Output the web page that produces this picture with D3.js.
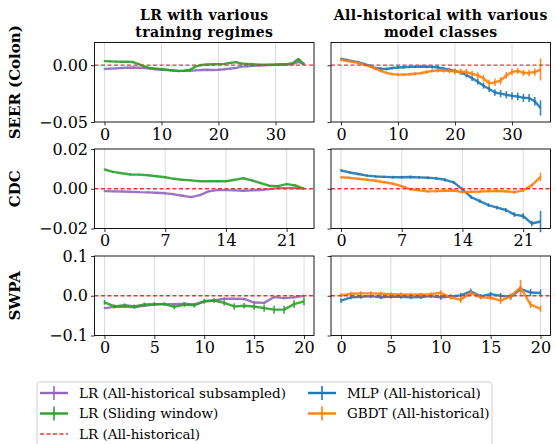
<!DOCTYPE html>
<html>
<head>
<meta charset="utf-8">
<script src="https://cdn.jsdelivr.net/npm/d3@7"></script>
<style>
  body { margin: 0; background: #fff; }
  text { font-family: "DejaVu Serif", serif; }
</style>
</head>
<body>
<div id="chart"></div>
<script>
// ---- data ----
var rowNames = ["SEER (Colon)", "CDC", "SWPA"];
var colTitles = [["LR with various", "training regimes"], ["All-historical with various", "model classes"]];
var seerXTicks = [0, 10, 20, 30], cdcXTicks = [0, 7, 14, 21], swpaXTicks = [0, 5, 10, 15, 20];
var seerYTicks = [-0.05, 0], cdcYTicks = [-0.02, 0, 0.02], swpaYTicks = [-0.1, 0, 0.1];
var seerYDomain = [-0.05, 0.02], cdcYDomain = [-0.02, 0.02], swpaYDomain = [-0.1, 0.1];

var seerSub = [-0.0033, -0.003, -0.0028, -0.0025, -0.0022, -0.002, -0.0022, -0.0026, -0.003, -0.0035, -0.004, -0.0043,
  -0.0047, -0.005, -0.005, -0.0049, -0.0045, -0.0042, -0.004, -0.0042, -0.004, -0.0036, -0.003, -0.0025, -0.0012,
  -0.001, -0.0006, -0.0002, 0.0, 0.0002, 0.0003, 0.0004, 0.0006, 0.001, 0.003, 0.0008];
var seerSliding = [0.0036, 0.0034, 0.0032, 0.0031, 0.003, 0.0028, 0.001, -0.001, -0.0025, -0.003, -0.0035, -0.004,
  -0.0045, -0.0052, -0.0048, -0.004, -0.001, 0.0002, 0.0006, 0.0008, 0.001, 0.0012, 0.002, 0.0027, 0.0015, 0.0012,
  0.001, 0.0005, 0.0004, 0.0004, 0.0006, 0.0008, 0.001, 0.0018, 0.0055, 0.001];
var seerMLP = [0.0056, 0.0046, 0.0036, 0.0027, 0.0012, -0.0003, -0.0025, -0.003, -0.0033, -0.0025, -0.002, -0.0018,
  -0.0015, -0.0013, -0.0012, -0.0013, -0.0015, -0.002, -0.003, -0.004, -0.005, -0.0065, -0.0086, -0.0115, -0.0145,
  -0.018, -0.021, -0.024, -0.025, -0.026, -0.027, -0.0275, -0.0287, -0.029, -0.0317, -0.0376];
var seerMLPErr = [0.0003, 0.0003, 0.0003, 0.0003, 0.0003, 0.0003, 0.0004, 0.0004, 0.0004, 0.0004, 0.0005, 0.0005,
  0.0005, 0.0005, 0.0005, 0.0006, 0.0006, 0.0007, 0.0008, 0.001, 0.0012, 0.0014, 0.0015, 0.0016, 0.0018, 0.002,
  0.002, 0.0022, 0.0025, 0.0025, 0.0025, 0.0027, 0.0028, 0.003, 0.003, 0.006];
var seerGBDT = [0.0047, 0.0038, 0.003, 0.002, 0.0005, -0.001, -0.003, -0.005, -0.0068, -0.0078, -0.0083, -0.0083,
  -0.008, -0.0075, -0.007, -0.006, -0.005, -0.0047, -0.0047, -0.005, -0.0056, -0.0058, -0.006, -0.0075, -0.009,
  -0.0115, -0.016, -0.0152, -0.0136, -0.009, -0.006, -0.005, -0.0068, -0.0068, -0.006, -0.0038];
var seerGBDTErr = [0.0003, 0.0003, 0.0003, 0.0003, 0.0003, 0.0003, 0.0003, 0.0004, 0.0004, 0.0004, 0.0005, 0.0005,
  0.0005, 0.0006, 0.0006, 0.0007, 0.0008, 0.001, 0.0012, 0.0015, 0.0018, 0.002, 0.002, 0.002, 0.0022, 0.0022,
  0.0025, 0.0025, 0.0025, 0.0022, 0.002, 0.002, 0.002, 0.0022, 0.0025, 0.009];

var cdcSub = [-0.0012, -0.0013, -0.0014, -0.0015, -0.0017, -0.0018, -0.002, -0.0023, -0.0028, -0.0035, -0.0042, -0.0032,
  -0.0013, -0.0007, -0.0007, -0.0008, -0.001, -0.0008, -0.0006, -0.0002, 0.0003, 0.0003, 0.0005, 0.0];
var cdcSliding = [0.0097, 0.0085, 0.0078, 0.0072, 0.0071, 0.0068, 0.0063, 0.0058, 0.005, 0.0045, 0.0042, 0.0038,
  0.0038, 0.0038, 0.0038, 0.0045, 0.0053, 0.0042, 0.0028, 0.0015, 0.0013, 0.0023, 0.0017, 0.0];
var cdcMLP = [0.0092, 0.0082, 0.0074, 0.0066, 0.0062, 0.006, 0.0058, 0.0058, 0.0059, 0.0057, 0.0055, 0.0052,
  0.0045, 0.0032, -0.0003, -0.0042, -0.0062, -0.0082, -0.0095, -0.0107, -0.013, -0.0137, -0.0175, -0.0165];
var cdcMLPErr = [0.0002, 0.0002, 0.0002, 0.0002, 0.0002, 0.0002, 0.0003, 0.0003, 0.0003, 0.0003, 0.0003, 0.0004,
  0.0004, 0.0004, 0.0004, 0.0004, 0.0005, 0.0005, 0.0005, 0.0006, 0.0008, 0.001, 0.001, 0.005];
var cdcGBDT = [0.0058, 0.0055, 0.005, 0.0045, 0.004, 0.0033, 0.0025, 0.0013, -0.0003, -0.0008, -0.0013, -0.0012,
  -0.001, -0.0009, -0.0017, -0.0015, -0.0014, -0.0012, -0.0011, -0.0013, -0.0017, -0.0008, 0.0017, 0.006];
var cdcGBDTErr = [0.0001, 0.0001, 0.0001, 0.0001, 0.0001, 0.0001, 0.0001, 0.0002, 0.0002, 0.0002, 0.0002, 0.0002,
  0.0002, 0.0002, 0.0002, 0.0002, 0.0002, 0.0003, 0.0003, 0.0003, 0.0004, 0.0004, 0.0005, 0.0017];

var swpaSub = [-0.031, -0.028, -0.027, -0.029, -0.025, -0.022, -0.021, -0.021, -0.02, -0.022, -0.014, -0.012,
  -0.0075, -0.0075, -0.008, -0.017, -0.018, -0.003, -0.006, -0.004, 0.0];
var swpaSliding = [-0.0167, -0.027, -0.024, -0.027, -0.022, -0.021, -0.021, -0.028, -0.022, -0.024, -0.014, -0.012,
  -0.018, -0.027, -0.025, -0.027, -0.031, -0.035, -0.035, -0.021, -0.014];
var swpaSlidingErr = [0.004, 0.003, 0.003, 0.003, 0.003, 0.003, 0.003, 0.004, 0.004, 0.004, 0.004, 0.004,
  0.005, 0.006, 0.005, 0.006, 0.007, 0.008, 0.008, 0.008, 0.008];
var swpaMLP = [-0.012, -0.004, -0.0025, -0.001, -0.004, -0.002, -0.0025, -0.004, -0.003, -0.001, -0.004, -0.002,
  0.001, 0.011, -0.0017, 0.004, 0.0, -0.003, 0.017, 0.008, 0.007];
var swpaMLPErr = [0.004, 0.003, 0.003, 0.003, 0.003, 0.003, 0.003, 0.003, 0.003, 0.003, 0.004, 0.004,
  0.004, 0.005, 0.004, 0.004, 0.005, 0.005, 0.006, 0.007, 0.007];
var swpaGBDT = [0.001, 0.005, 0.006, 0.006, 0.005, 0.004, 0.0035, 0.0025, 0.003, 0.004, 0.0075, -0.004,
  -0.01, 0.007, -0.004, -0.005, -0.0125, -0.0017, 0.021, -0.0225, -0.033];
var swpaGBDTErr = [0.003, 0.003, 0.003, 0.003, 0.003, 0.003, 0.003, 0.003, 0.003, 0.003, 0.004, 0.004,
  0.006, 0.004, 0.003, 0.004, 0.006, 0.006, 0.017, 0.006, 0.006];

var legendLabels = ["LR (All-historical subsampled)", "LR (Sliding window)", "LR (All-historical)",
  "MLP (All-historical)", "GBDT (All-historical)"];

// ---- styling ----
var C = { sub: "#9467bd", sliding: "#2ca02c", lr: "#f23030", mlp: "#1f77b4", gbdt: "#ff7f0e" };
var W = 556, H = 444;
var colX = [94.5, 331], colW = 219.5;
var rowY = [42.5, 149, 256], rowH = 79.5;

function zeros(n) { return new Array(n).fill(0); }

var rows = [
  { name: rowNames[0], yDomain: seerYDomain, yTicks: seerYTicks, fmt: ".2f", xTicks: seerXTicks,
    left: [{ v: seerSub, e: zeros(seerSub.length), c: C.sub }, { v: seerSliding, e: zeros(seerSliding.length), c: C.sliding }],
    right: [{ v: seerMLP, e: seerMLPErr, c: C.mlp }, { v: seerGBDT, e: seerGBDTErr, c: C.gbdt }] },
  { name: rowNames[1], yDomain: cdcYDomain, yTicks: cdcYTicks, fmt: ".2f", xTicks: cdcXTicks,
    left: [{ v: cdcSub, e: zeros(cdcSub.length), c: C.sub }, { v: cdcSliding, e: zeros(cdcSliding.length), c: C.sliding }],
    right: [{ v: cdcMLP, e: cdcMLPErr, c: C.mlp }, { v: cdcGBDT, e: cdcGBDTErr, c: C.gbdt }] },
  { name: rowNames[2], yDomain: swpaYDomain, yTicks: swpaYTicks, fmt: ".1f", xTicks: swpaXTicks,
    left: [{ v: swpaSub, e: zeros(swpaSub.length), c: C.sub }, { v: swpaSliding, e: swpaSlidingErr, c: C.sliding }],
    right: [{ v: swpaMLP, e: swpaMLPErr, c: C.mlp }, { v: swpaGBDT, e: swpaGBDTErr, c: C.gbdt }] }
];

var svg = d3.select("#chart").append("svg")
    .attr("width", W).attr("height", H)
    .style("background", "#fff");

// column titles, one text per line
colTitles.forEach(function(lines, ci) {
  lines.forEach(function(l, i) {
    svg.append("text")
        .attr("x", colX[ci] + colW / 2).attr("y", 20 + i * 16.5)
        .attr("text-anchor", "middle")
        .attr("font-size", 14).attr("font-weight", "bold")
        .attr("letter-spacing", 0.4)
        .text(l);
  });
});

rows.forEach(function(row, ri) {
  var n = row.left[0].v.length, xmax = n - 1;
  var y = d3.scaleLinear().domain(row.yDomain).range([rowY[ri] + rowH, rowY[ri]]);

  // row label
  svg.append("text")
      .attr("transform", "translate(20," + (rowY[ri] + rowH / 2) + ") rotate(-90)")
      .attr("text-anchor", "middle")
      .attr("font-size", 15).attr("font-weight", "bold")
      .text(row.name);

  [row.left, row.right].forEach(function(series, ci) {
    var x = d3.scaleLinear().domain([-0.05 * xmax, 1.05 * xmax]).range([colX[ci], colX[ci] + colW]);
    var g = svg.append("g");

    // vertical grid
    g.selectAll("line.grid").data(row.xTicks).enter().append("line")
        .attr("x1", function(d) { return x(d); }).attr("x2", function(d) { return x(d); })
        .attr("y1", rowY[ri]).attr("y2", rowY[ri] + rowH)
        .attr("stroke", "#dcdcdc").attr("stroke-width", 1);

    var line = d3.line().x(function(d, i) { return x(i); }).y(function(d) { return y(d); });

    series.forEach(function(s) {
      g.append("path").datum(s.v)
          .attr("d", line)
          .attr("fill", "none").attr("stroke", s.c)
          .attr("stroke-width", 2.4).attr("stroke-opacity", 0.9)
          .attr("stroke-linejoin", "round");
      g.selectAll(null).data(s.v).enter().append("line")
          .attr("x1", function(d, i) { return x(i); }).attr("x2", function(d, i) { return x(i); })
          .attr("y1", function(d, i) { return y(d - s.e[i]) + 0.8; })
          .attr("y2", function(d, i) { return y(d + s.e[i]) - 0.8; })
          .attr("stroke", s.c).attr("stroke-width", 1.6).attr("stroke-opacity", 0.9);
    });

    // LR (All-historical) reference at zero
    g.append("line")
        .attr("x1", colX[ci]).attr("x2", colX[ci] + colW)
        .attr("y1", y(0)).attr("y2", y(0))
        .attr("stroke", C.lr).attr("stroke-width", 1.3)
        .attr("stroke-dasharray", "4,2.5");

    // axes
    var xa = g.append("g").attr("transform", "translate(0," + (rowY[ri] + rowH) + ")")
        .call(d3.axisBottom(x).tickValues(row.xTicks).tickSize(3.5).tickPadding(2).tickFormat(d3.format("d")));
    var ya = g.append("g").attr("transform", "translate(" + colX[ci] + ",0)")
        .call(d3.axisLeft(y).tickValues(row.yTicks).tickSize(3.5).tickPadding(3)
          .tickFormat(ci === 0 ? d3.format(row.fmt) : ""));
    [xa, ya].forEach(function(a) {
      a.select(".domain").remove();
      a.selectAll("line").attr("stroke", "#000").attr("stroke-width", 0.8);
      a.selectAll("text").attr("font-size", 16).attr("fill", "#000")
          .style("font-family", "'DejaVu Serif', serif");
    });
    xa.selectAll("text").attr("dy", "0.75em");

    g.append("rect")
        .attr("x", colX[ci]).attr("y", rowY[ri])
        .attr("width", colW).attr("height", rowH)
        .attr("fill", "none").attr("stroke", "#000").attr("stroke-width", 0.9);
  });
});

// legend
var lg = svg.append("g");
lg.append("rect")
    .attr("x", 37).attr("y", 382).attr("width", 455).attr("height", 75).attr("rx", 3)
    .attr("fill", "#fff").attr("stroke", "#d0d0d0").attr("stroke-width", 1);
var legendItems = [
  { label: legendLabels[0], c: C.sub, x: 40, y: 393 },
  { label: legendLabels[1], c: C.sliding, x: 40, y: 413.5 },
  { label: legendLabels[2], c: C.lr, x: 40, y: 434, dashed: true },
  { label: legendLabels[3], c: C.mlp, x: 308, y: 393 },
  { label: legendLabels[4], c: C.gbdt, x: 308, y: 413.5 }
];
legendItems.forEach(function(it) {
  lg.append("line")
      .attr("x1", it.x).attr("x2", it.x + 28).attr("y1", it.y).attr("y2", it.y)
      .attr("stroke", it.c).attr("stroke-width", it.dashed ? 1.3 : 2.4)
      .attr("stroke-dasharray", it.dashed ? "4,2.5" : null);
  if (!it.dashed) {
    lg.append("line")
        .attr("x1", it.x + 14).attr("x2", it.x + 14).attr("y1", it.y - 7).attr("y2", it.y + 7)
        .attr("stroke", it.c).attr("stroke-width", 1.6);
  }
  lg.append("text")
      .attr("x", it.x + 39).attr("y", it.y).attr("dy", "0.35em")
      .attr("font-size", 13.5).text(it.label);
});
</script>
</body>
</html>
